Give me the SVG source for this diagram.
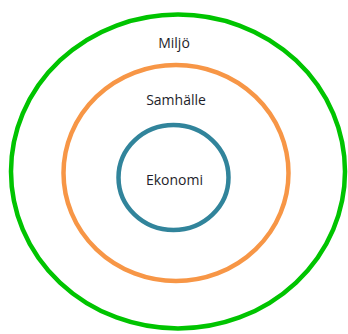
<svg xmlns="http://www.w3.org/2000/svg" width="348" height="334" viewBox="0 0 348 334">
<style>
.ring{fill:none;stroke-width:4.5}
.lbl{font-family:"Open Sans","Liberation Sans",sans-serif;font-size:14px;fill:#1e1e2a;text-anchor:middle}
</style>
<rect width="348" height="334" fill="#ffffff"/>
<g id="miljo">
<ellipse class="ring" cx="178" cy="171.5" rx="167" ry="157" stroke="#00c400"/>
<text class="lbl" x="174" y="48">Miljö</text>
</g>
<g id="samhalle">
<ellipse class="ring" cx="176" cy="173" rx="112.5" ry="108" stroke="#f79646"/>
<text class="lbl" x="176" y="105">Samhälle</text>
</g>
<g id="ekonomi">
<ellipse class="ring" cx="173.5" cy="177.5" rx="55" ry="52.5" stroke="#31849b" stroke-width="4"/>
<text class="lbl" x="174.5" y="184.5">Ekonomi</text>
</g>
<g id="connectors"></g>
</svg>
